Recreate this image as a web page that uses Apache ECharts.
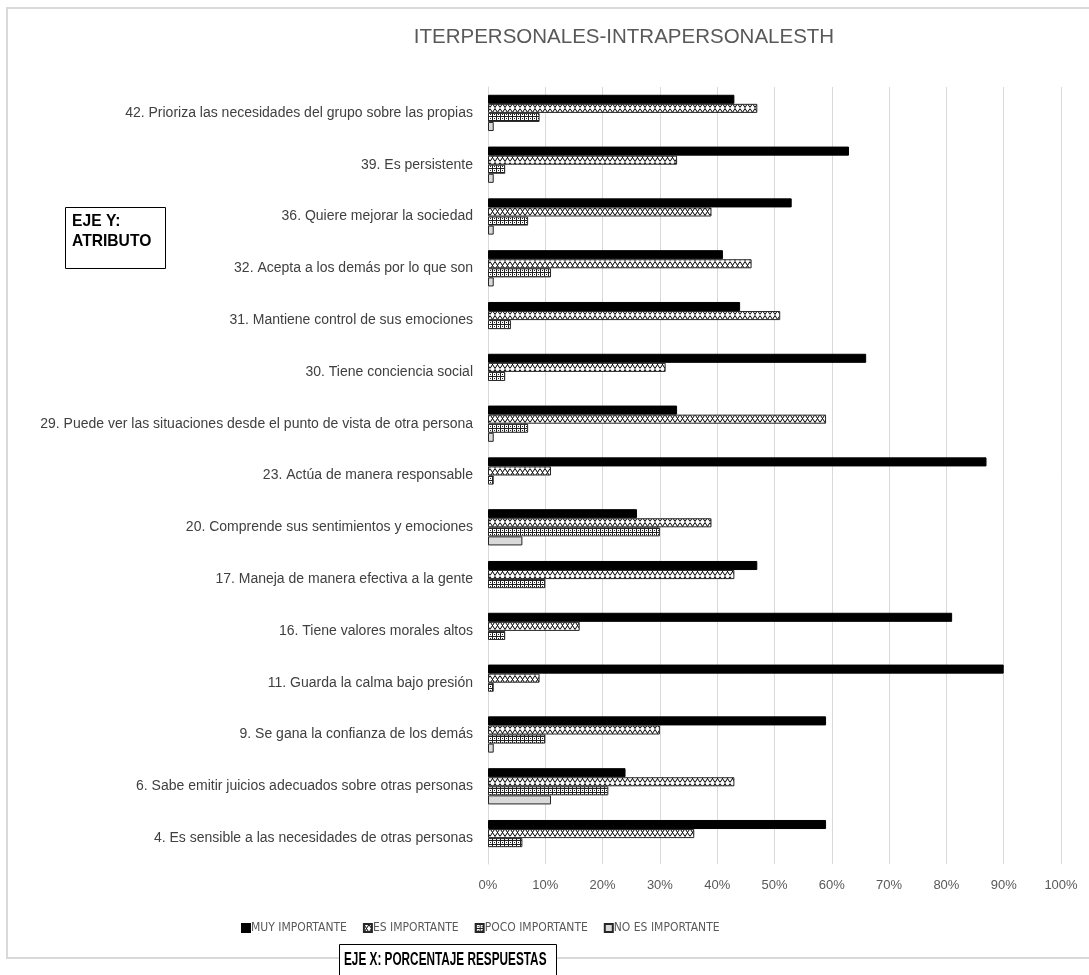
<!DOCTYPE html>
<html>
<head>
<meta charset="utf-8">
<title>ITERPERSONALES-INTRAPERSONALESTH</title>
<script src="https://cdn.jsdelivr.net/npm/echarts@6/dist/echarts.min.js"></script>
<style>
  html, body { margin: 0; padding: 0; background: #fff; }
  #chart { width: 1089px; height: 975px; }
</style>
</head>
<body>
<div id="chart"></div>
<script>
// Attributes, listed top to bottom
const categories = [
  '42. Prioriza las necesidades del grupo sobre las propias',
  '39. Es persistente',
  '36. Quiere mejorar la sociedad',
  '32. Acepta a los demás por lo que son',
  '31. Mantiene control de sus emociones',
  '30. Tiene conciencia social',
  '29. Puede ver las situaciones desde el punto de vista de otra persona',
  '23. Actúa de manera responsable',
  '20. Comprende sus sentimientos y emociones',
  '17. Maneja de manera efectiva a la gente',
  '16. Tiene valores morales altos',
  '11. Guarda la calma bajo presión',
  '9. Se gana la confianza de los demás',
  '6. Sabe emitir juicios adecuados sobre otras personas',
  '4. Es sensible a las necesidades de otras personas'
];

const seriesNames = ['MUY IMPORTANTE', 'ES IMPORTANTE', 'POCO IMPORTANTE', 'NO ES IMPORTANTE'];

// Percentage of answers per attribute
const muyImportante  = [43, 63, 53, 41, 44, 66, 33, 87, 26, 47, 81, 90, 59, 24, 59];
const esImportante   = [47, 33, 39, 46, 51, 31, 59, 11, 39, 43, 16,  9, 30, 43, 36];
const pocoImportante = [ 9,  3,  7, 11,  4,  3,  7,  1, 30, 10,  3,  1, 10, 21,  6];
const noImportante   = [ 1,  1,  1,  1,  0,  0,  1,  0,  6,  0,  0,  0,  1, 11,  0];

const xTicks = [0, 10, 20, 30, 40, 50, 60, 70, 80, 90, 100];

const FONT = "'Liberation Sans', Arial, sans-serif";
const NARROW = "'DejaVu Sans Condensed', 'Liberation Sans', sans-serif";

// Fill patterns
function zigzagPattern() {
  const c = document.createElement('canvas');
  c.width = 10; c.height = 9;
  const g = c.getContext('2d');
  g.fillStyle = '#fff'; g.fillRect(0, 0, 10, 9);
  g.strokeStyle = '#000'; g.lineWidth = 1;
  g.beginPath();
  g.moveTo(0, 0.5); g.lineTo(5, 8.5); g.lineTo(10, 0.5);
  g.moveTo(0, 8.5); g.lineTo(5, 0.5); g.lineTo(10, 8.5);
  g.stroke();
  return { image: c, repeat: 'repeat' };
}
function gridPattern() {
  const c = document.createElement('canvas');
  c.width = 4; c.height = 4;
  const g = c.getContext('2d');
  g.fillStyle = '#fff'; g.fillRect(0, 0, 4, 4);
  g.fillStyle = '#222';
  g.fillRect(0, 0, 4, 1);
  g.fillRect(0, 0, 1, 4);
  g.fillRect(2, 2, 1, 1);
  return { image: c, repeat: 'repeat' };
}

const fills = ['#000000', zigzagPattern(), gridPattern(), '#d9d9d9'];
const values = [muyImportante, esImportante, pocoImportante, noImportante];

const chart = echarts.init(document.getElementById('chart'), null, { renderer: 'canvas' });

const option = {
  backgroundColor: '#fff',
  animation: false,
  textStyle: { fontFamily: FONT },
  title: {
    text: 'ITERPERSONALES-INTRAPERSONALESTH',
    left: 619, top: 22, textAlign: 'center',
    textStyle: { color: '#595959', fontSize: 20.5, fontWeight: 'normal', fontFamily: FONT }
  },
  legend: {
    data: seriesNames,
    left: 236, top: 917,
    itemWidth: 8, itemHeight: 8, itemGap: 16,
    icon: 'rect',
    textStyle: { color: '#595959', fontSize: 12, fontFamily: NARROW, padding: [0, 0, 0, -4] }
  },
  grid: { left: 488, right: 28, top: 87, bottom: 111, containLabel: false },
  xAxis: {
    type: 'value', min: 0, max: 100, interval: 10,
    axisLabel: {
      color: '#595959', fontSize: 13, margin: 15, fontFamily: FONT,
      formatter: v => xTicks.includes(v) ? v + '%' : ''
    },
    axisLine: { show: false }, axisTick: { show: false },
    splitLine: { show: true, lineStyle: { color: '#d9d9d9', width: 1 } }
  },
  yAxis: {
    type: 'category', data: categories, inverse: true,
    axisLine: { show: true, lineStyle: { color: '#d9d9d9' } },
    axisTick: { show: false },
    axisLabel: { color: '#404040', fontSize: 14, margin: 15, fontFamily: FONT }
  },
  series: seriesNames.map((name, i) => ({
    name, type: 'bar',
    // an empty answer share draws no bar
    data: values[i].map(v => (v === 0 ? '-' : v)),
    barGap: '0%', barCategoryGap: '30%',
    itemStyle: { color: fills[i], borderColor: i === 0 ? '#000' : '#262626', borderWidth: 1 }
  })),
  graphic: [
    { type: 'rect', shape: { x: 7, y: 8, width: 1100, height: 950 }, z: -10,
      style: { fill: 'none', stroke: '#d9d9d9', lineWidth: 2 } },
    { type: 'rect', shape: { x: 65.5, y: 207.5, width: 100, height: 61 },
      style: { fill: '#fff', stroke: '#000', lineWidth: 1 } },
    { type: 'text', x: 72, y: 211, scaleX: 0.92,
      style: { text: 'EJE Y:\nATRIBUTO', fill: '#000', font: "bold 17px 'Liberation Sans', sans-serif", lineHeight: 20 } },
    { type: 'rect', shape: { x: 339.5, y: 944.5, width: 217, height: 40 },
      style: { fill: '#fff', stroke: '#000', lineWidth: 1 } },
    { type: 'text', x: 344, y: 950, scaleX: 0.62,
      style: { text: 'EJE X: PORCENTAJE RESPUESTAS', fill: '#000', font: "bold 19px 'Liberation Sans', sans-serif" } }
  ]
};

chart.setOption(option);
</script>
</body>
</html>
